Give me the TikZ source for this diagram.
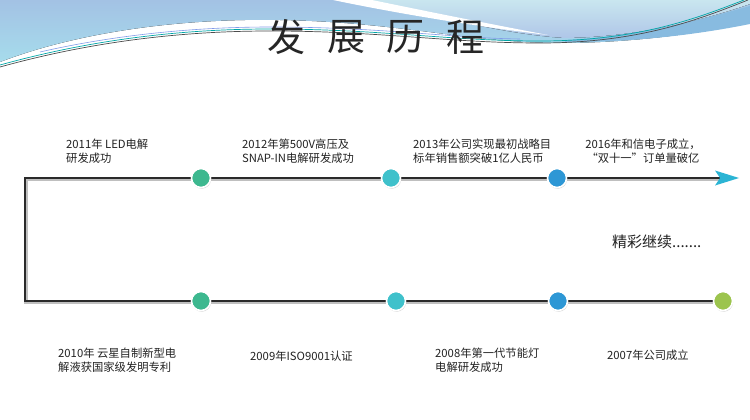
\documentclass[tikz,border=0pt]{standalone}
\usepackage{fontspec}
\setmainfont{Noto Sans CJK SC}
\newfontfamily\cjk{Noto Sans CJK SC}
\usetikzlibrary{shadows}
\definecolor{hdrtop}{HTML}{A3C2E4}
\definecolor{hdrbot}{HTML}{A6DCEC}
\definecolor{hdrlt}{HTML}{C9E6EF}
\definecolor{hdrlav}{HTML}{AFC6E8}
\definecolor{hdrband}{HTML}{88BBE0}
\definecolor{dotgreen}{HTML}{3DB88F}
\definecolor{dotcyan}{HTML}{3FC1CB}
\definecolor{dotblue}{HTML}{2D97D5}
\definecolor{dotlime}{HTML}{9CC44E}
\definecolor{arrowcyan}{HTML}{2BB4D4}
\definecolor{linedark}{HTML}{2A2A2A}
\definecolor{txt}{HTML}{222222}
\tikzset{
  dotnode/.style={circle,minimum size=19pt,inner sep=0pt,draw=white,line width=1.6pt,
    drop shadow={shadow xshift=0.6pt,shadow yshift=-1.2pt,opacity=0.35}},
  lbl/.style={anchor=west,align=left,inner sep=0pt,text=txt,font=\cjk\fontsize{11.3}{14}\selectfont},
  lblc/.style={anchor=center,align=center,inner sep=0pt,text=txt,font=\cjk\fontsize{11.3}{14}\selectfont},
  tline/.style={draw=linedark,line width=2.6pt,line join=miter},
  tshadow/.style={draw=black!25,line width=3.2pt,line join=miter},
  ttl/.style={inner sep=0pt,text=black!85,font=\cjk\fontsize{38}{40}\selectfont}
}
\begin{document}
\begin{tikzpicture}[x=1pt,y=-1pt]
\useasboundingbox (0,0) rectangle (750,420);
\fill[white] (0,0) rectangle (750,420);
% header background
\fill[top color=hdrtop,bottom color=hdrbot] (0,0) -- (750,0) -- (750,22)
  .. controls (690,36) and (620,43) .. (560,43)
  .. controls (470,43) and (400,22) .. (280,20)
  .. controls (170,18) and (70,35) .. (0,62) -- cycle;
\fill[top color=hdrlt,bottom color=hdrlav] (368,0) -- (750,0) -- (750,4)
  .. controls (680,28) and (620,37) .. (565,38)
  .. controls (500,34) and (430,14) .. (368,0) -- cycle;
\fill[white] (333,0) -- (372,0) .. controls (430,12) and (490,24) .. (548,35)
  .. controls (480,27) and (400,14) .. (333,0) -- cycle;
\fill[hdrband] (565,40) .. controls (640,36) and (700,20) .. (750,6) -- (750,24)
  .. controls (700,34) and (640,42) .. (565,42) -- cycle;
\draw[color=black!70,line width=0.7pt] (0,67) .. controls (90,42) and (180,31) .. (270,31)
  .. controls (380,31) and (450,43) .. (540,43) .. controls (640,43) and (700,19) .. (748,0);
\draw[color=teal!70!cyan,line width=0.7pt] (0,65) .. controls (90,40) and (180,29) .. (270,29)
  .. controls (380,29) and (450,41) .. (540,41) .. controls (640,41) and (700,17) .. (744,0);
\draw[color=hdrtop!80!blue,line width=0.6pt] (40,52) .. controls (110,36) and (190,27) .. (270,27)
  .. controls (380,27) and (450,38) .. (520,39);
% title
\node[ttl] (t1) at (286,37) {发};
\node[ttl] (t2) at (346,37) {展};
\node[ttl] (t3) at (405,37) {历};
\node[ttl] (t4) at (465,37) {程};
% timeline coordinates
\coordinate (c1) at (25,178);
\coordinate (c2) at (25,301);
\coordinate (e1) at (720,178);
\coordinate (e2) at (723,301);
% shadow
\draw[tshadow] ([shift={(1,1.5)}]e1) -- ([shift={(1,1.5)}]c1) -- ([shift={(1,1.5)}]c2) -- ([shift={(1,1.5)}]e2);
\draw[tline] (e1) -- (c1) -- (c2) -- (e2);
% arrow head
\fill[arrowcyan] (715,170.5) -- (739,178) -- (715,185.5) -- (720,178) -- cycle;
% dots
\node[dotnode,fill=dotgreen] (d2011) at (201,178) {};
\node[dotnode,fill=dotcyan] (d2012) at (391,178) {};
\node[dotnode,fill=dotblue] (d2013) at (557,178) {};
\node[dotnode,fill=dotgreen] (d2010) at (201,301) {};
\node[dotnode,fill=dotcyan] (d2009) at (396,301) {};
\node[dotnode,fill=dotblue] (d2008) at (558,301) {};
\node[dotnode,fill=dotlime] (d2007) at (723,301) {};
% top labels
\node[lbl] (l2011) at (66,151) {2011年 LED电解\\研发成功};
\node[lbl] (l2012) at (242,151) {2012年第500V高压及\\SNAP-IN电解研发成功};
\node[lbl] (l2013) at (413,151) {2013年公司实现最初战略目\\标年销售额突破1亿人民币};
\node[lblc] (l2016) at (643,151) {2016年和信电子成立，\\“双十一”订单量破亿};
% continue
\node[anchor=west,inner sep=0pt,text=txt,font=\cjk\fontsize{15}{17}\selectfont] (more) at (612,242) {精彩继续.......};
% bottom labels
\node[lbl] (l2010) at (58,360.5) {2010年 云星自制新型电\\解液获国家级发明专利};
\node[lbl] (l2009) at (250,356) {2009年ISO9001认证};
\node[lbl] (l2008) at (435,360) {2008年第一代节能灯\\电解研发成功};
\node[lbl] (l2007) at (607,355) {2007年公司成立};
\end{tikzpicture}
\end{document}
